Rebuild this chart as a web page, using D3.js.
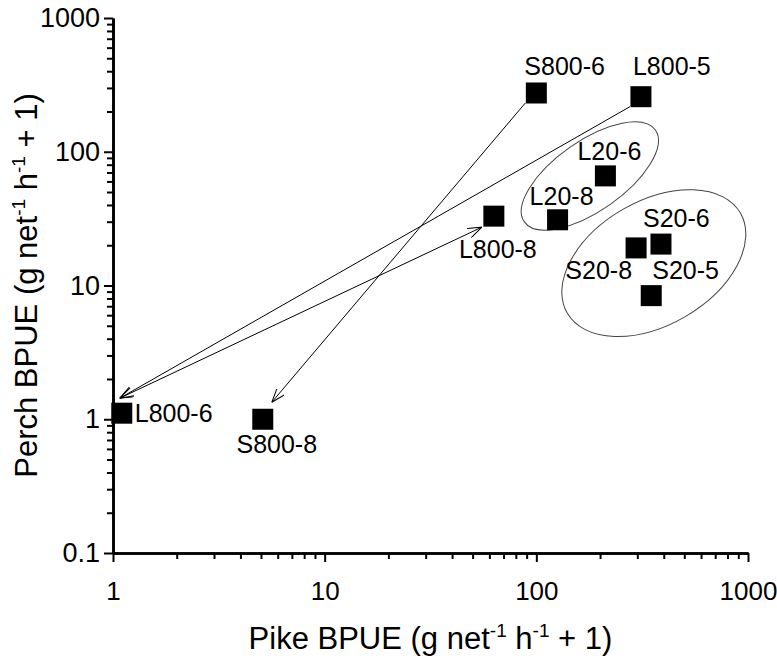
<!DOCTYPE html>
<html>
<head>
<meta charset="utf-8">
<script src="https://cdn.jsdelivr.net/npm/d3@7"></script>
<style>
  body { margin: 0; background: #fff; }
  text { font-family: "Liberation Sans", Arial, sans-serif; fill: #000; }
</style>
</head>
<body>
<div id="chart"></div>
<script>
//~~~~~~~~~~~~~~~~~~DATA
let names = ['S800-6', 'L800-5', 'L20-6', 'L20-8', 'L800-8', 'S20-6', 'S20-8', 'S20-5', 'L800-6', 'S800-8'];
let pike = [100, 312, 212, 126, 63, 388, 296, 349, 1.1, 5.1];
let perch = [275, 258, 66, 31, 33, 20.4, 19.1, 8.4, 1.11, 1.0];

let xTickValues = [1, 10, 100, 1000];
let yTickValues = [0.1, 1, 10, 100, 1000];

//arrows go from one site to another
let arrowFrom = ['S800-6', 'L800-5', 'L800-6'];
let arrowTo = ['S800-8', 'L800-6', 'L800-8'];

//ellipse groups, centre in data units
let groupPike = [179, 359];
let groupPerch = [65.9, 14.7];

//~~~~~~~~~~~~~~~~~~LAYOUT
let width = 777;
let height = 662;
let margin = {top: 18, right: 29, bottom: 109, left: 113};
let boxSize = 21;

//where each label sits relative to its square
let labelPos = {
  'S800-6': [-12, -18, 'start'],
  'L800-5': [-8, -22, 'start'],
  'L20-6': [4, -16, 'middle'],
  'L20-8': [4, -15, 'middle'],
  'L800-8': [4, 42, 'middle'],
  'S20-6': [-18, -17, 'start'],
  'S20-8': [-4, 31, 'end'],
  'S20-5': [1, -17, 'start'],
  'L800-6': [13, 9, 'start'],
  'S800-8': [14, 34, 'middle']
};

//pixel offsets of arrow ends from the square centres
let arrowStart = [[-11, 10], [-11, 10], [-2, -15]];
let arrowEnd = [[9, -17], [-2, -15], [-12, 11]];
let arrowBoth = [false, false, true];

//ellipse radii and tilt
let ellipseR = [[80, 35, -35], [100, 62, -30]];

let svg = d3.select('#chart')
  .append('svg')
  .attr('width', width)
  .attr('height', height);

let x = d3.scaleLog()
  .domain([1, 1000])
  .range([margin.left, width - margin.right]);

let y = d3.scaleLog()
  .domain([0.1, 1000])
  .range([height - margin.bottom, margin.top]);

//minor ticks 2..9 in each decade
function minors(lo, hi) {
  let out = [];
  for (let d = lo; d < hi; d *= 10) {
    for (let k = 2; k <= 9; k++) out.push(d * k);
  }
  return out;
}

//~~~~~~~~~~~~~~~~~~AXES
let xMinor = svg.append('g')
  .attr('transform', 'translate(0,' + (height - margin.bottom) + ')')
  .call(d3.axisBottom(x).tickValues(minors(1, 1000)).tickSize(6).tickSizeOuter(0).tickFormat(''));

let xMajor = svg.append('g')
  .attr('transform', 'translate(0,' + (height - margin.bottom) + ')')
  .call(d3.axisBottom(x).tickValues(xTickValues).tickSize(9).tickSizeOuter(0)
    .tickFormat(d3.format('')));

let yMinor = svg.append('g')
  .attr('transform', 'translate(' + margin.left + ',0)')
  .call(d3.axisLeft(y).tickValues(minors(0.1, 1000)).tickSize(6).tickSizeOuter(0).tickFormat(''));

let yMajor = svg.append('g')
  .attr('transform', 'translate(' + margin.left + ',0)')
  .call(d3.axisLeft(y).tickValues(yTickValues).tickSize(9).tickSizeOuter(0)
    .tickFormat(function(d) { return d < 1 ? '0.1' : d3.format('')(d); }));

svg.selectAll('.domain').attr('stroke', '#000').attr('stroke-width', 2.6);
svg.selectAll('.tick line').attr('stroke', '#000').attr('stroke-width', 2);
svg.selectAll('.tick text').attr('font-size', 27).attr('font-family', '"Liberation Sans", Arial, sans-serif').attr('fill', '#000');
//x labels a touch smaller so 1000 stays inside the frame
xMajor.selectAll('.tick text').attr('font-size', 26).attr('dy', 0).attr('y', 47);
yMajor.selectAll('.tick text').attr('x', -13);

//axis titles with superscripts
function addTitle(g, label) {
  g.append('tspan').text(label + ' (g net');
  g.append('tspan').text('-1').attr('font-size', 19).attr('dy', -12);
  g.append('tspan').text(' h').attr('font-size', 31).attr('dy', 12);
  g.append('tspan').text('-1').attr('font-size', 19).attr('dy', -12);
  g.append('tspan').text(' + 1)').attr('font-size', 31).attr('dy', 12);
}

let xTitle = svg.append('text')
  .attr('x', (margin.left + width - margin.right) / 2)
  .attr('y', 649)
  .attr('text-anchor', 'middle')
  .attr('font-size', 31);
addTitle(xTitle, 'Pike BPUE');

let yTitle = svg.append('text')
  .attr('transform', 'translate(37,' + ((margin.top + height - margin.bottom) / 2) + ') rotate(-90)')
  .attr('text-anchor', 'middle')
  .attr('font-size', 31);
addTitle(yTitle, 'Perch BPUE');

//~~~~~~~~~~~~~~~~~~ELLIPSES
svg.selectAll('.group')
  .data(groupPike)
  .enter()
  .append('ellipse')
  .attr('class', 'group')
  .attr('rx', function(d, i) { return ellipseR[i][0]; })
  .attr('ry', function(d, i) { return ellipseR[i][1]; })
  .attr('transform', function(d, i) {
    return 'translate(' + x(d) + ',' + y(groupPerch[i]) + ') rotate(' + ellipseR[i][2] + ')';
  })
  .attr('fill', 'none')
  .attr('stroke', '#444')
  .attr('stroke-width', 1);

//~~~~~~~~~~~~~~~~~~ARROWS
svg.append('defs').append('marker')
  .attr('id', 'head')
  .attr('viewBox', '0 0 14 10')
  .attr('refX', 14)
  .attr('refY', 5)
  .attr('markerWidth', 14)
  .attr('markerHeight', 10)
  .attr('markerUnits', 'userSpaceOnUse')
  .attr('orient', 'auto-start-reverse')
  .append('path')
  .attr('d', 'M0,0 L14,5 L0,10')
  .attr('fill', 'none')
  .attr('stroke', '#000')
  .attr('stroke-width', 1);

function siteX(n) { return x(pike[names.indexOf(n)]); }
function siteY(n) { return y(perch[names.indexOf(n)]); }

svg.selectAll('.arrow')
  .data(arrowFrom)
  .enter()
  .append('line')
  .attr('class', 'arrow')
  .attr('x1', function(d, i) { return siteX(d) + arrowStart[i][0]; })
  .attr('y1', function(d, i) { return siteY(d) + arrowStart[i][1]; })
  .attr('x2', function(d, i) { return siteX(arrowTo[i]) + arrowEnd[i][0]; })
  .attr('y2', function(d, i) { return siteY(arrowTo[i]) + arrowEnd[i][1]; })
  .attr('stroke', '#000')
  .attr('stroke-width', 1)
  .attr('marker-end', 'url(#head)')
  .attr('marker-start', function(d, i) { return arrowBoth[i] ? 'url(#head)' : null; });

//~~~~~~~~~~~~~~~~~~POINTS
svg.selectAll('.pt')
  .data(names)
  .enter()
  .append('rect')
  .attr('class', 'pt')
  .attr('x', function(d, i) { return x(pike[i]) - boxSize / 2; })
  .attr('y', function(d, i) { return y(perch[i]) - boxSize / 2; })
  .attr('width', boxSize)
  .attr('height', boxSize)
  .attr('fill', '#000');

svg.selectAll('.lbl')
  .data(names)
  .enter()
  .append('text')
  .attr('class', 'lbl')
  .attr('x', function(d, i) { return x(pike[i]) + labelPos[d][0]; })
  .attr('y', function(d, i) { return y(perch[i]) + labelPos[d][1]; })
  .attr('text-anchor', function(d) { return labelPos[d][2]; })
  .attr('font-size', 25)
  .text(function(d) { return d; });
</script>
</body>
</html>
